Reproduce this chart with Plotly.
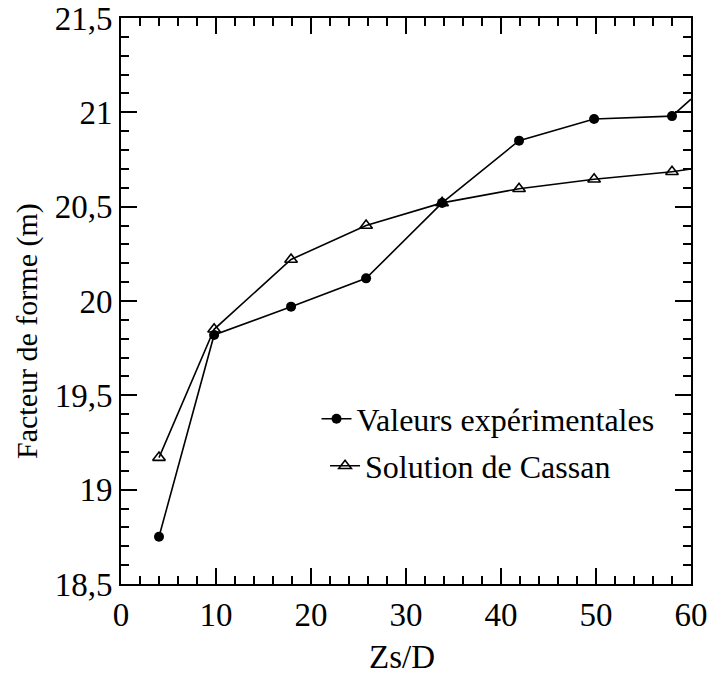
import plotly.graph_objects as go

# Data
zs_d = [4, 9.8, 17.9, 25.8, 33.8, 41.9, 49.8, 58]
valeurs_exp = [18.75, 19.82, 19.97, 20.12, 20.52, 20.85, 20.965, 20.98]
solution_cassan = [19.17, 19.85, 20.22, 20.40, 20.52, 20.595, 20.645, 20.685]
# line segments continuing to the right border
ext_x = [58, 60]
ext_exp = [20.98, 21.07]
ext_cassan = [20.685, 20.70]

x_ticks = [0, 10, 20, 30, 40, 50, 60]
y_ticks = [18.5, 19, 19.5, 20, 20.5, 21, 21.5]
y_tick_text = ["18,5", "19", "19,5", "20", "20,5", "21", "21,5"]

x_title = "Zs/D"
y_title = "Facteur de forme (m)"

FONT = "Liberation Serif, Times New Roman, serif"

fig = go.Figure()
fig.add_trace(go.Scatter(
    x=zs_d, y=valeurs_exp, mode="lines+markers", name="Valeurs expérimentales",
    line=dict(color="black", width=1.6),
    marker=dict(symbol="circle", size=10, color="black"),
    legend="legend"))
fig.add_trace(go.Scatter(
    x=zs_d, y=solution_cassan, mode="lines+markers", name="Solution de Cassan",
    line=dict(color="black", width=1.6),
    marker=dict(symbol="triangle-up-open", size=11, color="black", line=dict(width=1.6)),
    legend="legend2"))
fig.add_trace(go.Scatter(x=ext_x, y=ext_exp, mode="lines", showlegend=False,
                         line=dict(color="black", width=1.6), hoverinfo="skip"))
fig.add_trace(go.Scatter(x=ext_x, y=ext_cassan, mode="lines", showlegend=False,
                         line=dict(color="black", width=1.6), hoverinfo="skip"))

axis_common = dict(
    showline=True, linecolor="black", linewidth=2, mirror="allticks",
    ticks="inside", ticklen=16, tickwidth=1.5, tickcolor="black",
    showgrid=False, zeroline=False, automargin=False,
    tickfont=dict(family=FONT, size=33, color="black"),
)

fig.update_xaxes(
    range=[0, 60], tickvals=x_ticks, ticktext=[str(v) for v in x_ticks],
    minor=dict(dtick=2, ticks="inside", ticklen=8, tickwidth=1.5, tickcolor="black", showgrid=False),
    **axis_common)
fig.update_yaxes(
    range=[18.5, 21.5], tickvals=y_ticks, ticktext=y_tick_text,
    minor=dict(dtick=0.1, ticks="inside", ticklen=8, tickwidth=1.5, tickcolor="black", showgrid=False),
    **axis_common)

fig.add_annotation(text=x_title, xref="paper", yref="paper", x=0.493, y=-0.129,
                   xanchor="center", yanchor="middle", showarrow=False,
                   font=dict(family=FONT, size=33, color="black"))
fig.add_annotation(text=y_title, xref="paper", yref="paper", x=-0.165, y=0.447,
                   xanchor="center", yanchor="middle", showarrow=False, textangle=-90,
                   font=dict(family=FONT, size=30, color="black"))

legend_common = dict(font=dict(family=FONT, size=32, color="black"),
                     bgcolor="rgba(0,0,0,0)", borderwidth=0,
                     xanchor="left", yanchor="middle")
fig.update_layout(
    width=714, height=678,
    margin=dict(l=121, r=23, t=18, b=94),
    paper_bgcolor="white", plot_bgcolor="white",
    showlegend=True,
    legend=dict(x=0.343, y=0.2915, **legend_common),
    legend2=dict(x=0.358, y=0.2085, **legend_common),
)

fig.write_html("out.html")
